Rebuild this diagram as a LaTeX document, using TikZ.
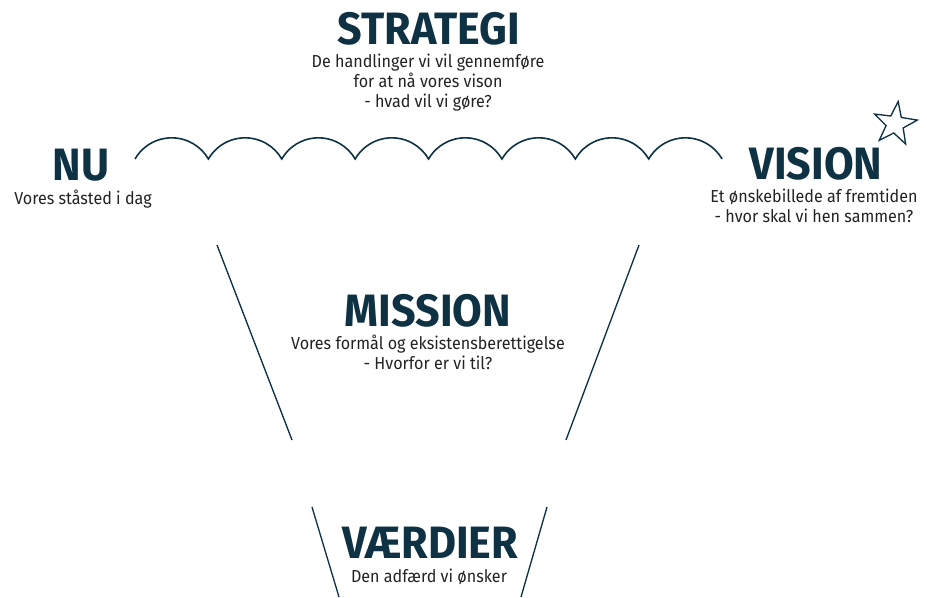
\documentclass[tikz,border=0pt]{standalone}
\usepackage{fontspec}
\usepackage{xcolor}
\usetikzlibrary{shapes.geometric}
\setmainfont{Fira Sans}
\newfontfamily\titelfont[FakeStretch=0.95]{Fira Sans}
\newfontfamily\brodfont[FakeStretch=0.93]{Fira Sans}
\definecolor{moerkblaa}{HTML}{0E3243}
\definecolor{tekstgraa}{HTML}{222222}

\begin{document}
\begin{tikzpicture}[x=0.75pt, y=-0.75pt,
    titel/.style={font=\titelfont\bfseries\fontsize{34}{34}\selectfont, text=moerkblaa, inner sep=0pt, anchor=base},
    tekst/.style={font=\brodfont\fontsize{13}{15}\selectfont, text=tekstgraa, inner sep=0pt, align=center, anchor=north},
    streg/.style={draw=moerkblaa, line width=1pt}]
            \useasboundingbox (0,0) rectangle (927,597);

            \node[titel] (strategi) at (429,44) {STRATEGI};
            \node[tekst] (strategitekst) at (428,54) {De handlinger vi vil gennemføre\\for at nå vores vison\\- hvad vil vi gøre?};

            \node[titel] (nu) at (81,180) {NU};
            \node[tekst] (nutekst) at (83,190) {Vores ståsted i dag};

            \node[titel] (vision) at (816,179) {VISION};
            \node[tekst] (visiontekst) at (814,189) {Et ønskebillede af fremtiden\\- hvor skal vi hen sammen?};
            \node[star, star points=5, star point ratio=2.5, streg, minimum size=34pt, rotate=-8] (stjerne) at (895,124) {};

            \node[titel] (mission) at (428,326) {MISSION};
            \node[tekst] (missiontekst) at (428,335) {Vores formål og eksistensberettigelse\\- Hvorfor er vi til?};

            \node[titel] (vaerdier) at (430,558) {VÆRDIER};
            \node[tekst] (vaerditekst) at (429,569) {Den adfærd vi ønsker};

            \draw[streg, line width=1.2pt] (135,159) \foreach \i in {1,...,8} { arc[start angle=210, end angle=330, radius=42.37] };

            \draw[streg] (217,245) -- (292,440);
            \draw[streg] (639,245) -- (566,440);
            \draw[streg] (312,507) -- (339,597);
            \draw[streg] (547,507) -- (521,597);
        \end{tikzpicture}
\end{document}
